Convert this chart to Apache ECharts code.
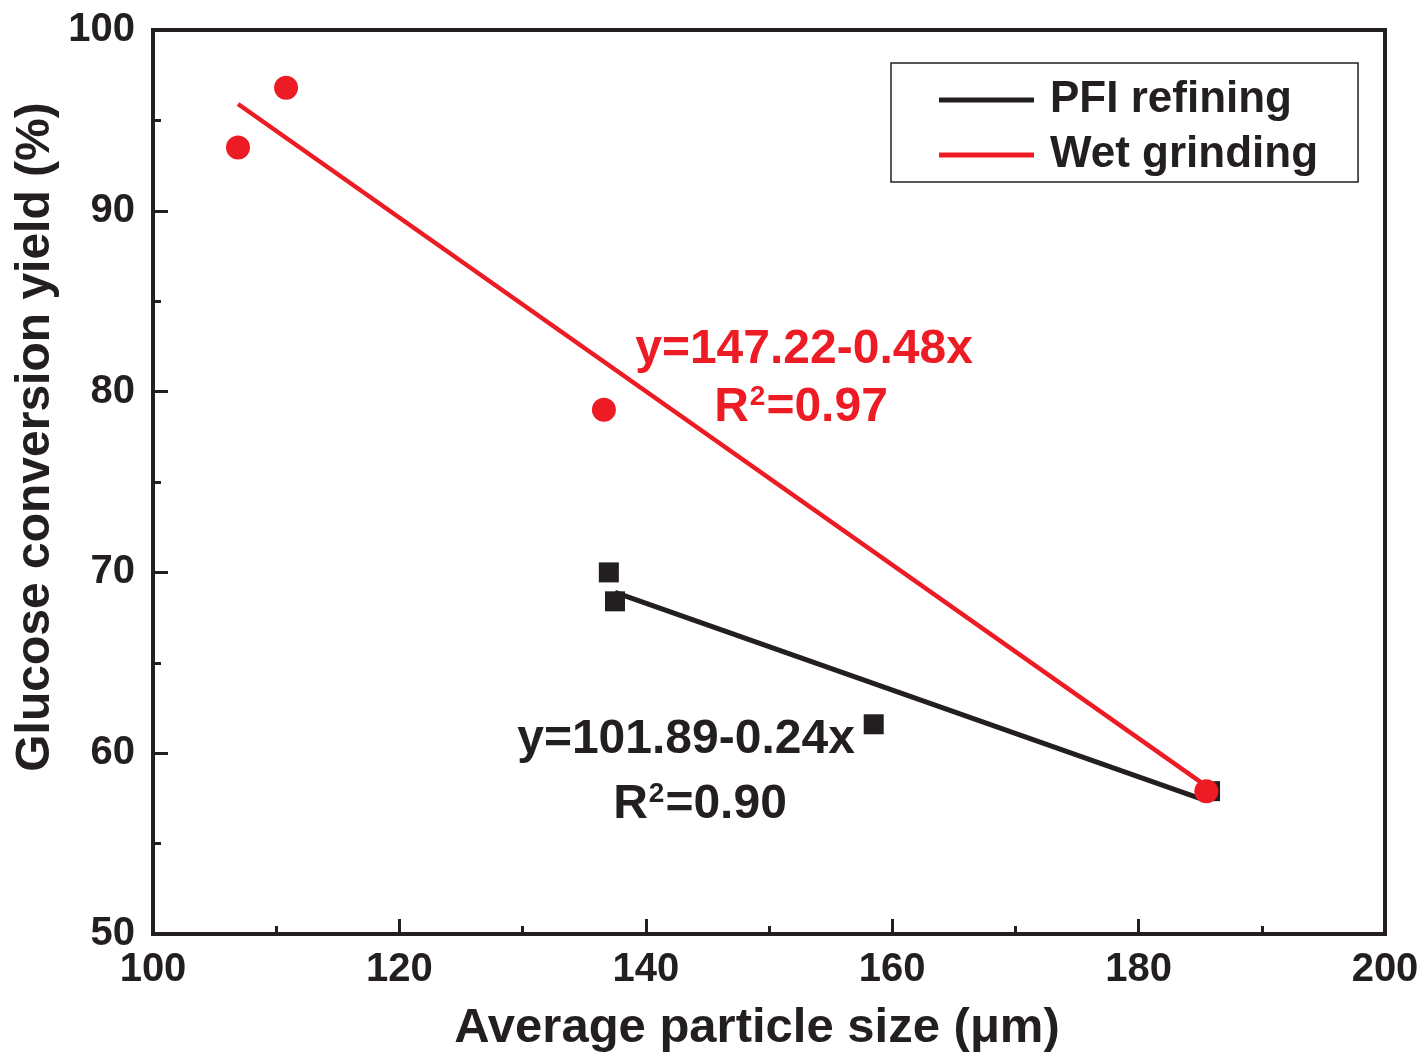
<!DOCTYPE html>
<html>
<head>
<meta charset="utf-8">
<script src="https://cdn.jsdelivr.net/npm/echarts@6/dist/echarts.min.js"></script>
<style>
  html, body { margin: 0; padding: 0; background: #fff; }
  #chart { width: 1425px; height: 1058px; }
</style>
</head>
<body>
<div id="chart"></div>
<script>
// Measured points: average particle size (μm) vs. glucose conversion yield (%)
const pfiSize  = [137.0, 137.5, 158.5, 185.8];
const pfiYield = [70.0, 68.4, 61.6, 57.9];
const wetSize  = [106.9, 110.8, 136.6, 185.5];
const wetYield = [93.5, 96.8, 79.0, 57.9];

// Linear fits as stated in the annotations: y = a + b·x
const pfiFit = { a: 101.89, b: -0.24, r2: '0.90', xFrom: 137.5, xTo: 185.2 };
const wetFit = { a: 147.22, b: -0.48, r2: '0.97', xFrom: 106.9, xTo: 185.3 };

const xTicks = { min: 100, max: 200, step: 20 };
const yTicks = { min: 50, max: 100, step: 10 };

const INK = '#231f20';
const RED = '#ed1c24';
const FONT = '"Liberation Sans", Arial, Helvetica, sans-serif';

const pair = (xs, ys) => xs.map((x, i) => [x, ys[i]]);
const fitLine = f => [f.xFrom, f.xTo].map(x => [x, +(f.a + f.b * x).toFixed(3)]);
const eqText = f => 'y=' + f.a.toFixed(2) + '-' + Math.abs(f.b).toFixed(2) + 'x';

const chart = echarts.init(document.getElementById('chart'), null, { renderer: 'canvas' });

const axisCommon = {
  axisLine: { show: true, onZero: false, lineStyle: { color: INK, width: 4 } },
  axisTick: { show: true, inside: true, length: 15, lineStyle: { color: INK, width: 3 } },
  minorTick: { show: true, splitNumber: 2, length: 8, lineStyle: { color: INK, width: 3 } },
  splitLine: { show: false },
  axisLabel: { color: INK, fontFamily: FONT, fontWeight: 'bold', fontSize: 40 }
};

// rich-text styles for the fit equations (graphic text uses zrender style keys)
const eqRich = color => ({
  t: { fill: color, fontFamily: FONT, fontWeight: 'bold', fontSize: 48, lineHeight: 54 },
  s: { fill: color, fontFamily: FONT, fontWeight: 'bold', fontSize: 28, lineHeight: 54, verticalAlign: 'top', padding: [2, 1, 0, 1] }
});

chart.setOption({
  backgroundColor: '#ffffff',
  animation: false,
  grid: {
    left: 153, right: 40, top: 30, bottom: 123,
    show: true, borderColor: INK, borderWidth: 4, backgroundColor: 'transparent'
  },
  xAxis: Object.assign({
    type: 'value', min: xTicks.min, max: xTicks.max, interval: xTicks.step,
    name: 'Average particle size (μm)', nameLocation: 'middle', nameGap: 70,
    nameTextStyle: { color: INK, fontFamily: FONT, fontWeight: 'bold', fontSize: 49, padding: [0, 24, 0, 0] }
  }, axisCommon, { axisLabel: Object.assign({}, axisCommon.axisLabel, { margin: 16 }) }),
  yAxis: Object.assign({
    type: 'value', min: yTicks.min, max: yTicks.max, interval: yTicks.step
  }, axisCommon, { axisLabel: Object.assign({}, axisCommon.axisLabel, { margin: 18 }) }),
  legend: {
    orient: 'vertical', left: 891, top: 63,
    borderColor: INK, borderWidth: 1.5, borderRadius: 0,
    padding: [14, 40, 4, 48], itemGap: 9,
    itemWidth: 95, itemHeight: 5, icon: 'rect',
    textStyle: { color: INK, fontFamily: FONT, fontWeight: 'bold', fontSize: 44, lineHeight: 46, padding: [0, 0, 0, 11] },
    data: ['PFI refining', 'Wet grinding']
  },
  series: [
    {
      name: 'PFI refining', type: 'line', data: fitLine(pfiFit),
      showSymbol: false, symbol: 'none', z: 2,
      lineStyle: { color: INK, width: 5 }, itemStyle: { color: INK }
    },
    {
      name: 'PFI refining', type: 'scatter', data: pair(pfiSize, pfiYield),
      symbol: 'rect', symbolSize: 20, z: 3, itemStyle: { color: INK, opacity: 1 }
    },
    {
      name: 'Wet grinding', type: 'line', data: fitLine(wetFit),
      showSymbol: false, symbol: 'none', z: 4,
      lineStyle: { color: RED, width: 4.5 }, itemStyle: { color: RED }
    },
    {
      name: 'Wet grinding', type: 'scatter', data: pair(wetSize, wetYield),
      symbol: 'circle', symbolSize: 24, z: 5, itemStyle: { color: RED, opacity: 1 }
    }
  ],
  graphic: [
    {
      type: 'text', x: 36, y: 437, rotation: Math.PI / 2,
      style: {
        text: 'Glucose conversion yield (%)', fill: INK,
        fontFamily: FONT, fontWeight: 'bold', fontSize: 48,
        align: 'center', verticalAlign: 'middle'
      }
    },
    {
      type: 'text', x: 804, y: 350,
      style: { text: '{t|' + eqText(wetFit) + '}', rich: eqRich(RED), align: 'center', verticalAlign: 'middle' }
    },
    {
      type: 'text', x: 801, y: 408,
      style: { text: '{t|R}{s|2}{t|=' + wetFit.r2 + '}', rich: eqRich(RED), align: 'center', verticalAlign: 'middle' }
    },
    {
      type: 'text', x: 686, y: 740,
      style: { text: '{t|' + eqText(pfiFit) + '}', rich: eqRich(INK), align: 'center', verticalAlign: 'middle' }
    },
    {
      type: 'text', x: 700, y: 805,
      style: { text: '{t|R}{s|2}{t|=' + pfiFit.r2 + '}', rich: eqRich(INK), align: 'center', verticalAlign: 'middle' }
    }
  ]
});
</script>
</body>
</html>
